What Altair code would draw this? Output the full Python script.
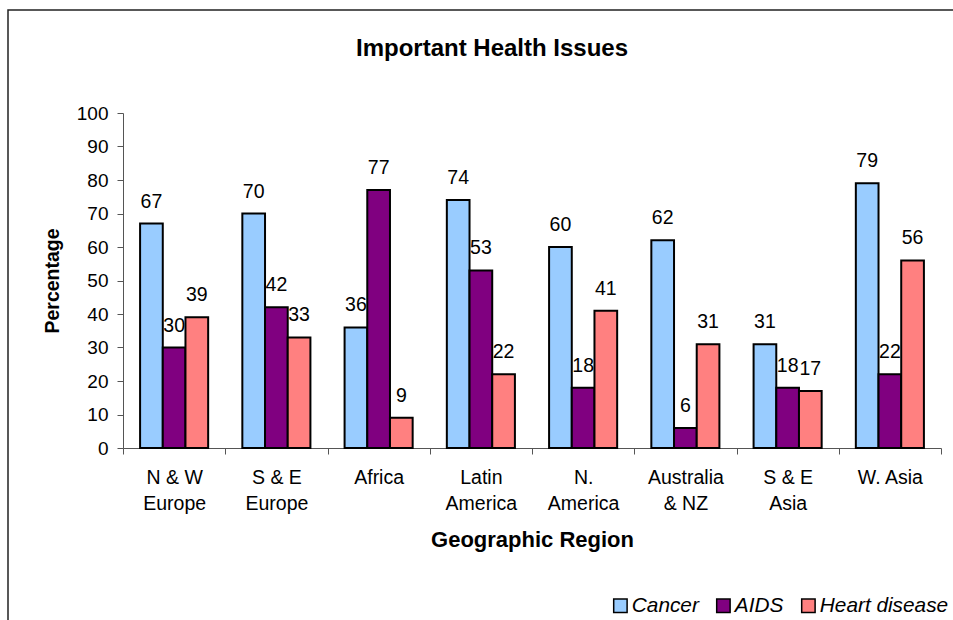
import altair as alt
import pandas as pd

# Regions (line breaks mark where the axis label wraps)
regions = ["N & W\nEurope", "S & E\nEurope", "Africa", "Latin\nAmerica",
           "N.\nAmerica", "Australia\n& NZ", "S & E\nAsia", "W. Asia"]
issues = ["Cancer", "AIDS", "Heart disease"]

# Percentage of respondents naming each issue as important
cancer = [67, 70, 36, 74, 60, 62, 31, 79]
aids = [30, 42, 77, 53, 18, 6, 18, 22]
heart = [39, 33, 9, 22, 41, 31, 17, 56]

colors = ["#99CCFF", "#800080", "#FF8080"]
y_ticks = list(range(0, 101, 10))

FONT = "Liberation Sans"

rows = []
for series_name, series in zip(issues, [cancer, aids, heart]):
    for region, value in zip(regions, series):
        rows.append({"region": region, "issue": series_name, "value": value})
df = pd.DataFrame(rows)

x_enc = alt.X(
    "region:N",
    sort=regions,
    scale=alt.Scale(paddingInner=0, paddingOuter=0),
    axis=alt.Axis(
        title="Geographic Region",
        labelAngle=0,
        labelExpr="split(datum.label, '\\n')",
        labelFontSize=19.5,
        labelLineHeight=26,
        labelPadding=14,
        labelColor="#000",
        tickBand="extent",
        tickSize=6,
        tickColor="#555",
        domainColor="#555",
        titleFontSize=22,
        titleFontWeight="bold",
        titlePadding=17,
        titleColor="#000",
    ),
)
xoff_enc = alt.XOffset(
    "issue:N", sort=issues, scale=alt.Scale(paddingInner=0, paddingOuter=0.753)
)
y_enc = alt.Y(
    "value:Q",
    scale=alt.Scale(domain=[0, 100], nice=False),
    axis=alt.Axis(
        title="Percentage",
        values=y_ticks,
        grid=False,
        labelFontSize=19,
        labelPadding=9,
        labelColor="#000",
        tickSize=6,
        tickColor="#555",
        domainColor="#555",
        titleFontSize=19.5,
        titleFontWeight="bold",
        titlePadding=14,
        titleColor="#000",
    ),
)

bars = alt.Chart(df).mark_bar(stroke="black", strokeWidth=2).encode(
    x=x_enc,
    xOffset=xoff_enc,
    y=y_enc,
    color=alt.Color(
        "issue:N",
        sort=issues,
        scale=alt.Scale(domain=issues, range=colors),
        legend=alt.Legend(
            title=None,
            orient="none",
            legendX=487,
            legendY=482,
            direction="horizontal",
            symbolType="square",
            symbolSize=180,
            symbolStrokeColor="black",
            symbolStrokeWidth=1.5,
            labelFontSize=20.8,
            labelFontStyle="italic",
            labelFont=FONT,
            labelColor="#000",
            labelOffset=1,
            columnPadding=14,
            labelLimit=0,
        ),
    ),
)

labels = alt.Chart(df).mark_text(
    dy=-16, baseline="alphabetic", fontSize=19.5, font=FONT, color="#000"
).encode(
    x=x_enc,
    xOffset=xoff_enc,
    y=y_enc,
    text=alt.Text("value:Q"),
)

# Outer chart frame
frame = alt.Chart(pd.DataFrame({"f": [0]})).mark_rect(
    fill="transparent", stroke="#222", strokeWidth=1.5
).encode(
    x=alt.value(-115), x2=alt.value(900), y=alt.value(-103), y2=alt.value(600)
)

chart = alt.layer(frame, bars, labels).properties(
    width=818,
    height=335,
    title=alt.TitleParams(
        "Important Health Issues",
        fontSize=24,
        font=FONT,
        fontWeight="bold",
        anchor="middle",
        dx=-40,
        dy=52,
        offset=0,
        color="#000",
    ),
    autosize=alt.AutoSizeParams(type="none"),
    padding={"left": 123, "top": 113, "right": 12, "bottom": 172},
    background="white",
).configure_view(stroke=None).configure_axis(labelFont=FONT, titleFont=FONT)

chart.save("out.html", embed_options={"renderer": "svg", "actions": False})
